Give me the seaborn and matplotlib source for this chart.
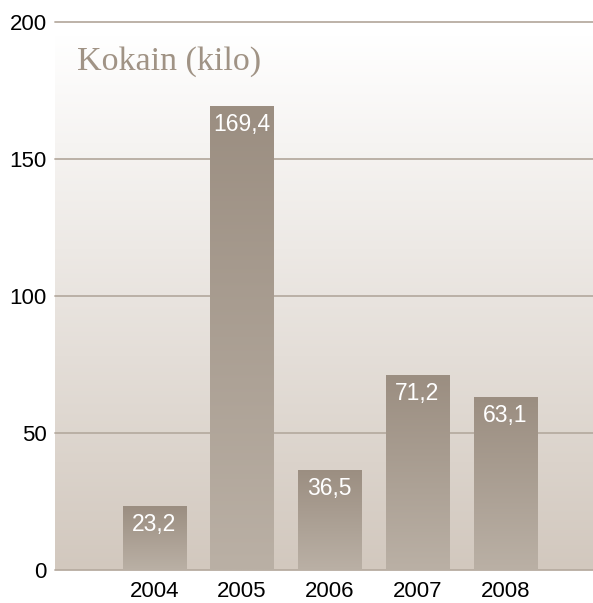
import numpy as np
import pandas as pd
import seaborn as sns
import matplotlib.pyplot as plt
from matplotlib.colors import LinearSegmentedColormap

# Kokain seized per year, values as printed on the bars
years = ['2004', '2005', '2006', '2007', '2008']
kilos = [23.2, 169.4, 36.5, 71.2, 63.1]
bar_labels = ['23,2', '169,4', '36,5', '71,2', '63,1']
yticks = [0, 50, 100, 150, 200]

df = pd.DataFrame({'year': years, 'kilo': kilos})

sns.set_theme(style='white')
plt.rcParams['font.family'] = ['Liberation Sans', 'DejaVu Sans']

fig = plt.figure(figsize=(5.93, 6.03), dpi=100)
ax = fig.add_axes([55 / 593, 33 / 603, 538 / 593, 548 / 603])

sns.barplot(data=df, x='year', y='kilo', color='#a89b8e', width=0.72,
            ax=ax, zorder=3)

xlim = (-1.13, 5.0)
ramp = np.linspace(0, 1, 256).reshape(-1, 1)

# background: white at the top fading to warm grey at the baseline
bg_cmap = LinearSegmentedColormap.from_list('bg', ['#ffffff', '#d2c8be'])
ax.imshow(ramp, extent=[xlim[0], xlim[1], 0, 195], cmap=bg_cmap,
          aspect='auto', zorder=0)

# each bar gets its own dark-to-light gradient
bar_cmap = LinearSegmentedColormap.from_list('bar', ['#9b8e81', '#bab0a5'])
for patch in ax.patches:
    x0, w, h = patch.get_x(), patch.get_width(), patch.get_height()
    patch.set_facecolor('none')
    patch.set_edgecolor('none')
    im = ax.imshow(ramp, extent=[x0, x0 + w, 0, h], cmap=bar_cmap,
                   aspect='auto', zorder=3)
    im.set_clip_path(patch)

for y in yticks:
    ax.axhline(y, color='#b7aca1', lw=1.3, zorder=1, clip_on=False)

for i, (v, lab) in enumerate(zip(kilos, bar_labels)):
    ax.annotate(lab, (i, v), xytext=(0, -5), textcoords='offset points',
                ha='center', va='top', color='white', fontsize=16.5, zorder=4)

ax.text(-0.88, 182.5, 'Kokain (kilo)', family=['Liberation Serif', 'DejaVu Serif'],
        fontsize=24.5, color='#a09385', va='baseline', ha='left', zorder=4)

ax.set_xlim(*xlim)
ax.set_ylim(0, 200)
ax.set_yticks(yticks)
ax.set_xlabel('')
ax.set_ylabel('')
sns.despine(ax=ax, left=True, bottom=True)
ax.tick_params(axis='y', length=0, labelsize=16, pad=6, labelcolor='black')
ax.tick_params(axis='x', length=0, labelsize=16, pad=8, labelcolor='black')

fig.savefig('out.png', dpi=100)
